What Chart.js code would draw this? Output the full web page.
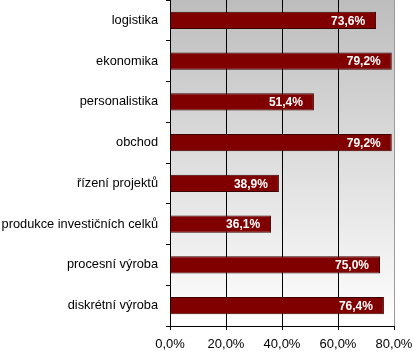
<!DOCTYPE html>
<html><head><meta charset="utf-8">
<script src="https://cdn.jsdelivr.net/npm/chart.js@4"></script>
<style>html,body{margin:0;padding:0;background:#fff}#wrap{width:413px;height:359px}</style>
</head><body><div id="wrap"><canvas id="c" width="413" height="359"></canvas></div>
<script>
const categories = ["logistika","ekonomika","personalistika","obchod","řízení projektů","produkce investičních celků","procesní výroba","diskrétní výroba"];
const values = [73.6, 79.2, 51.4, 79.2, 38.9, 36.1, 75.0, 76.4];
const xTicks = [0, 20, 40, 60, 80];

const fmt = v => v.toFixed(1).replace('.', ',') + '%';

const bgPlugin = {
  id: 'bg',
  beforeDraw(chart) {
    const {ctx, chartArea: a} = chart;
    const g = ctx.createLinearGradient(0, a.top, 0, a.bottom);
    g.addColorStop(0, '#bdbdbd');
    g.addColorStop(1, '#ffffff');
    ctx.save(); ctx.fillStyle = g; ctx.fillRect(a.left, a.top, a.right - a.left, a.bottom - a.top); ctx.restore();
  }
};
const labelPlugin = {
  id: 'lbl',
  afterDatasetsDraw(chart) {
    const {ctx} = chart;
    const meta = chart.getDatasetMeta(0);
    ctx.save();
    ctx.font = 'bold 12px "Liberation Sans", Arial, sans-serif';
    ctx.fillStyle = '#ffffff';
    ctx.textAlign = 'right';
    ctx.textBaseline = 'middle';
    meta.data.forEach((bar, i) => {
      ctx.fillText(fmt(values[i]), bar.x - 11, bar.y + 1);
    });
    ctx.restore();
  }
};

new Chart(document.getElementById('c'), {
  type: 'bar',
  data: { labels: categories, datasets: [{ data: values, backgroundColor: '#800000', borderColor: '#3a0000', borderWidth: 1, barPercentage: 0.84, categoryPercentage: 0.5 }] },
  options: {
    indexAxis: 'y', responsive: false, animation: false, devicePixelRatio: 1,
    layout: { padding: { top: 0, right: 19, left: 0, bottom: 0 } },
    plugins: { legend: { display: false }, tooltip: { enabled: false } },
    scales: {
      x: {
        min: 0, max: 80,
        afterBuildTicks(s) { s.ticks = xTicks.map(v => ({ value: v })); },
        afterFit(s) { s.height = 33; s.paddingLeft = 0; s.paddingRight = 0; },
        ticks: { callback: v => fmt(v), color: '#000', font: { family: '"Liberation Sans", Arial, sans-serif', size: 13 }, padding: 7, maxRotation: 0 },
        grid: { color: ctx => (ctx.tick && ctx.tick.value === 80) ? '#9a9a9a' : '#000', tickLength: 4, tickColor: '#000', lineWidth: 1 },
        border: { color: '#000', width: 1 }
      },
      y: {
        afterFit(s) { s.width = 170; s.paddingTop = 0; s.paddingBottom = 0; },
        ticks: { color: '#000', font: { family: '"Liberation Sans", Arial, sans-serif', size: 12.8 }, padding: 8 },
        grid: { offset: true, drawOnChartArea: false, tickLength: 4, color: '#000' },
        border: { color: '#000', width: 1 }
      }
    }
  },
  plugins: [bgPlugin, labelPlugin]
});
</script></body></html>
